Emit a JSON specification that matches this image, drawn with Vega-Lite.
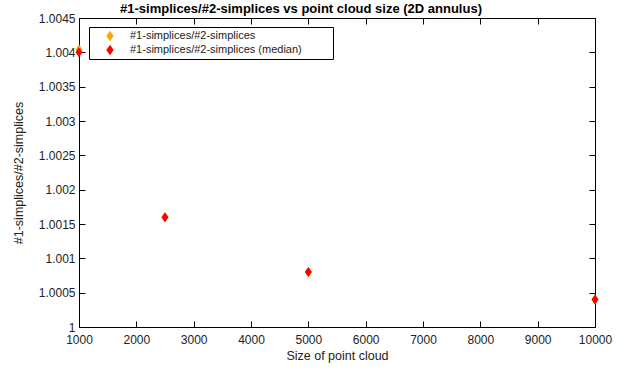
{
  "$schema": "https://vega.github.io/schema/vega-lite/v6.json",
  "width": 516,
  "height": 309,
  "autosize": {"type": "none"},
  "padding": {"left": 79, "top": 18, "right": 31, "bottom": 43},
  "background": "white",
  "config": {
    "font": "Liberation Sans",
    "view": {"stroke": "black", "strokeWidth": 1},
    "axis": {"grid": false, "domainColor": "black", "tickColor": "black", "labelColor": "#222", "labelFontSize": 12, "titleFontSize": 12.5, "titleFontWeight": "normal", "titleColor": "#222", "labelFont": "Liberation Sans", "titleFont": "Liberation Sans", "labelFlush": false, "labelOverlap": false}
  },
  "title": {"text": "#1-simplices/#2-simplices vs point cloud size (2D annulus)", "fontSize": 13, "fontWeight": "bold", "font": "Liberation Sans", "offset": -4, "dx": -36, "color": "black"},
  "data": {"values": [
    {"n": 1000, "ratio": 1.00404, "series": "#1-simplices/#2-simplices"},
    {"n": 2500, "ratio": 1.0016, "series": "#1-simplices/#2-simplices"},
    {"n": 5000, "ratio": 1.0008, "series": "#1-simplices/#2-simplices"},
    {"n": 10000, "ratio": 1.0004, "series": "#1-simplices/#2-simplices"},
    {"n": 1000, "ratio": 1.004, "series": "#1-simplices/#2-simplices (median)"},
    {"n": 2500, "ratio": 1.0016, "series": "#1-simplices/#2-simplices (median)"},
    {"n": 5000, "ratio": 1.0008, "series": "#1-simplices/#2-simplices (median)"},
    {"n": 10000, "ratio": 1.0004, "series": "#1-simplices/#2-simplices (median)"}
  ]},
  "layer": [
    {
      "mark": {"type": "point", "filled": true, "opacity": 1, "size": 100, "clip": false},
      "encoding": {
        "x": {"field": "n", "type": "quantitative", "scale": {"domain": [1000, 10000], "nice": false, "zero": false},
          "axis": {"orient": "bottom", "values": [1000,2000,3000,4000,5000,6000,7000,8000,9000,10000], "tickSize": -6, "labelPadding": 13, "title": "Size of point cloud", "titlePadding": 4, "format": "d"}},
        "y": {"field": "ratio", "type": "quantitative", "scale": {"domain": [1, 1.0045], "nice": false, "zero": false},
          "axis": {"orient": "left", "values": [1,1.0005,1.001,1.0015,1.002,1.0025,1.003,1.0035,1.004,1.0045], "tickSize": -6, "labelPadding": 10, "title": "#1-simplices/#2-simplices", "titlePadding": 13, "labelExpr": "datum.value == 1 ? '1' : format(datum.value, '.4~f')"}},
        "color": {"field": "series", "type": "nominal", "scale": {"domain": ["#1-simplices/#2-simplices", "#1-simplices/#2-simplices (median)"], "range": ["#FFA500", "#FF0000"]},
          "legend": {"title": null, "orient": "none", "legendX": 10, "legendY": 9, "strokeColor": "black", "fillColor": "white", "padding": 3, "symbolOffset": 12, "labelOffset": 14, "labelFontSize": 11, "labelColor": "#222", "labelLimit": 400, "rowPadding": 2, "symbolSize": 110, "labelExpr": "datum.label + '\u00a0\u00a0\u00a0\u00a0\u00a0\u00a0\u00a0\u00a0\u00a0\u200b'"}},
        "shape": {"field": "series", "type": "nominal", "scale": {"domain": ["#1-simplices/#2-simplices", "#1-simplices/#2-simplices (median)"], "range": ["M0,-1L0.7,0L0,1L-0.7,0Z", "M0,-1L0.7,0L0,1L-0.7,0Z"]}, "legend": null},
        "order": {"field": "series", "type": "nominal"}
      }
    },
    {
      "mark": {"type": "point", "opacity": 0},
      "encoding": {
        "x": {"field": "n", "type": "quantitative", "axis": {"orient": "top", "values": [1000,2000,3000,4000,5000,6000,7000,8000,9000,10000], "tickSize": -6, "labels": false, "title": null}},
        "y": {"field": "ratio", "type": "quantitative", "axis": {"orient": "right", "values": [1,1.0005,1.001,1.0015,1.002,1.0025,1.003,1.0035,1.004,1.0045], "tickSize": -6, "labels": false, "title": null}}
      }
    }
  ]
}
